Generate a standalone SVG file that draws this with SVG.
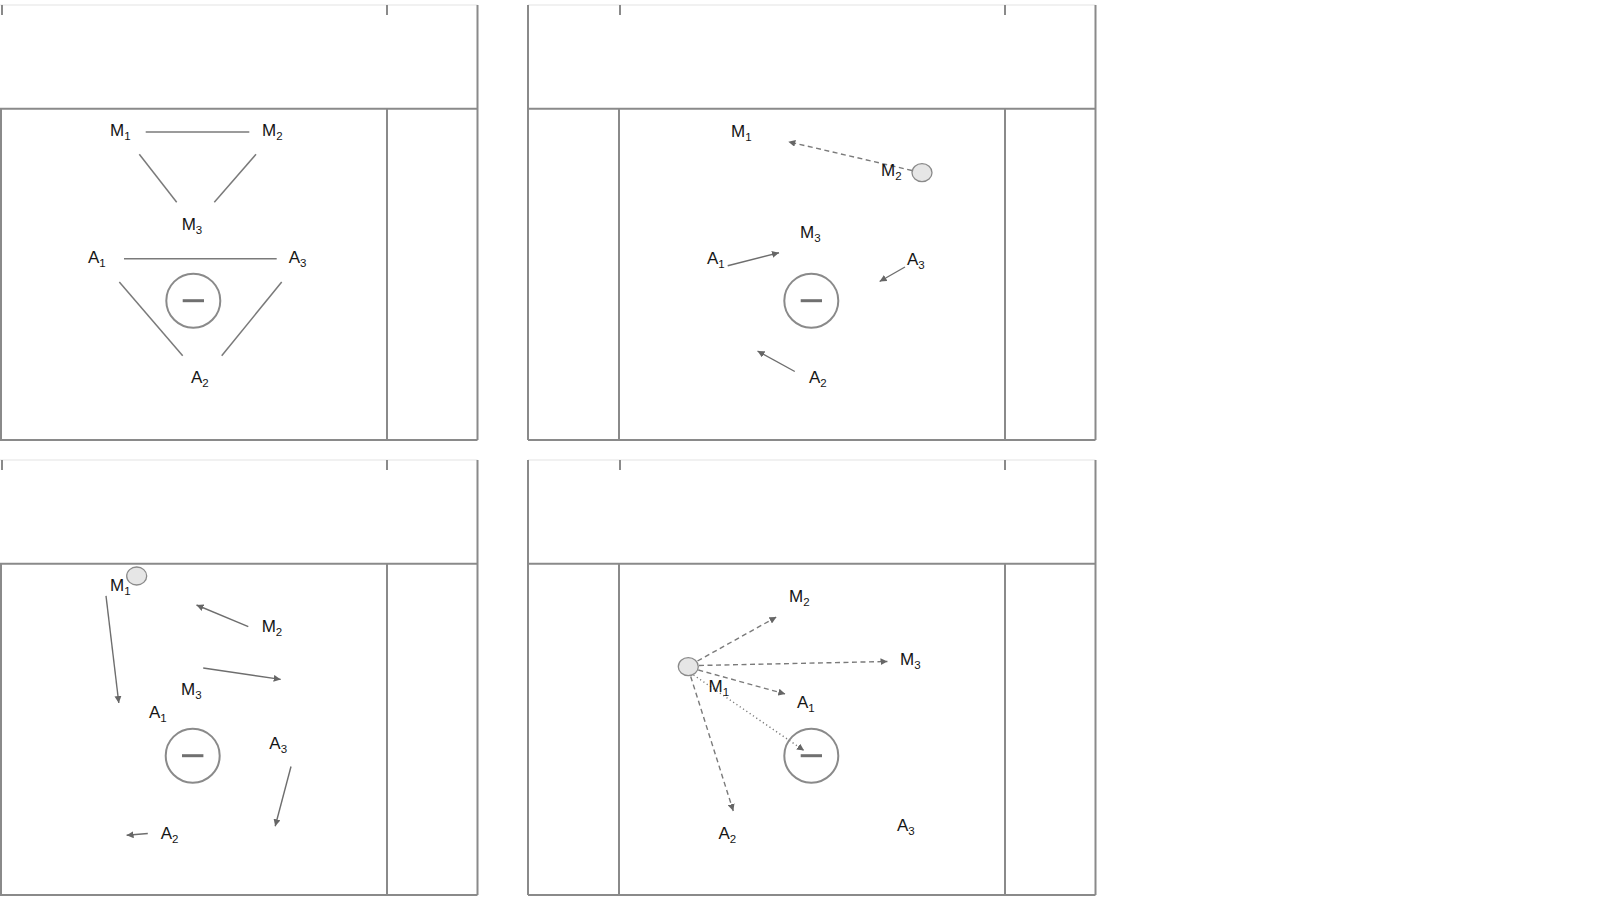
<svg xmlns="http://www.w3.org/2000/svg" width="1600" height="900" viewBox="0 0 1600 900">
<defs>
<style>
.faint{stroke:#ececec;stroke-width:1.5;fill:none}
.box{stroke:#8a8a8a;stroke-width:2;fill:none}
.tick{stroke:#8a8a8a;stroke-width:2}
.ln{stroke:#7a7a7a;stroke-width:1.5;fill:none}
.ar{stroke:#6e6e6e;stroke-width:1.4;fill:none;marker-end:url(#ah)}
.da{stroke:#7a7a7a;stroke-width:1.4;fill:none;stroke-dasharray:5 3.5;marker-end:url(#ah)}
.do{stroke:#7a7a7a;stroke-width:1.4;fill:none;stroke-dasharray:1.2 2.8;marker-end:url(#ah)}
.ion{stroke:#8a8a8a;stroke-width:2;fill:none}
.minus{stroke:#707070;stroke-width:3}
.dot{stroke:#8a8a8a;stroke-width:1.3;fill:#e6e6e6}
text{font-family:"Liberation Sans",Arial,Helvetica,sans-serif;font-size:17px;fill:#151515}
.sub{font-size:11.5px}
</style>
<marker id="ah" viewBox="0 0 7 7" refX="7" refY="3.5" markerWidth="7" markerHeight="7" markerUnits="userSpaceOnUse" orient="auto">
<path d="M0,0 L7,3.5 L0,7 z" fill="#666"/>
</marker>
</defs>

<g id="frames">
<g id="frame1">
<line class="faint" x1="0" y1="5" x2="477.5" y2="5"/>
<line class="tick" x1="2" y1="5" x2="2" y2="15"/>
<line class="tick" x1="387" y1="5" x2="387" y2="15"/>
<line class="box" x1="477.5" y1="5" x2="477.5" y2="440"/>
<line class="box" x1="0" y1="108.7" x2="477.5" y2="108.7"/>
<line class="box" x1="1" y1="108.7" x2="1" y2="440"/>
<line class="box" x1="387" y1="108.7" x2="387" y2="440"/>
<line class="box" x1="0" y1="440" x2="477.5" y2="440"/>
</g>
<g id="frame2">
<line class="faint" x1="528" y1="5" x2="1095.5" y2="5"/>
<line class="tick" x1="620" y1="5" x2="620" y2="15"/>
<line class="tick" x1="1005" y1="5" x2="1005" y2="15"/>
<line class="box" x1="528" y1="5" x2="528" y2="440"/>
<line class="box" x1="1095.5" y1="5" x2="1095.5" y2="440"/>
<line class="box" x1="528" y1="108.7" x2="1095.5" y2="108.7"/>
<line class="box" x1="619" y1="108.7" x2="619" y2="440"/>
<line class="box" x1="1005" y1="108.7" x2="1005" y2="440"/>
<line class="box" x1="528" y1="440" x2="1095.5" y2="440"/>
</g>
<g id="frame3">
<line class="faint" x1="0" y1="460" x2="477.5" y2="460"/>
<line class="tick" x1="2" y1="460" x2="2" y2="470"/>
<line class="tick" x1="387" y1="460" x2="387" y2="470"/>
<line class="box" x1="477.5" y1="460" x2="477.5" y2="895"/>
<line class="box" x1="0" y1="563.7" x2="477.5" y2="563.7"/>
<line class="box" x1="1" y1="563.7" x2="1" y2="895"/>
<line class="box" x1="387" y1="563.7" x2="387" y2="895"/>
<line class="box" x1="0" y1="895" x2="477.5" y2="895"/>
</g>
<g id="frame4">
<line class="faint" x1="528" y1="460" x2="1095.5" y2="460"/>
<line class="tick" x1="620" y1="460" x2="620" y2="470"/>
<line class="tick" x1="1005" y1="460" x2="1005" y2="470"/>
<line class="box" x1="528" y1="460" x2="528" y2="895"/>
<line class="box" x1="1095.5" y1="460" x2="1095.5" y2="895"/>
<line class="box" x1="528" y1="563.7" x2="1095.5" y2="563.7"/>
<line class="box" x1="619" y1="563.7" x2="619" y2="895"/>
<line class="box" x1="1005" y1="563.7" x2="1005" y2="895"/>
<line class="box" x1="528" y1="895" x2="1095.5" y2="895"/>
</g>
</g>

<g id="connectors">
<line class="ln" x1="145.7" y1="132" x2="249.3" y2="132"/>
<line class="ln" x1="139.3" y1="154.3" x2="176.7" y2="202.3"/>
<line class="ln" x1="256" y1="154.3" x2="214.3" y2="202.3"/>
<line class="ln" x1="124" y1="258.7" x2="276.7" y2="258.7"/>
<line class="ln" x1="119.3" y1="282" x2="182.7" y2="355.7"/>
<line class="ln" x1="281.7" y1="282" x2="221.7" y2="355.7"/>

<line class="da" x1="912" y1="170.5" x2="788.3" y2="141.7"/>
<line class="ar" x1="727.7" y1="265.7" x2="779" y2="252.7"/>
<line class="ar" x1="905" y1="267" x2="879.6" y2="281.5"/>
<line class="ar" x1="794.8" y1="371.5" x2="757.5" y2="351"/>

<line class="ar" x1="106" y1="595.8" x2="118.8" y2="703"/>
<line class="ar" x1="248.3" y1="626.6" x2="196.5" y2="605"/>
<line class="ar" x1="203.2" y1="668" x2="280.7" y2="679.4"/>
<line class="ar" x1="291" y1="766.5" x2="275.2" y2="826.3"/>
<line class="ar" x1="147.8" y1="833.5" x2="126.6" y2="835.3"/>

<line class="da" x1="697.5" y1="661" x2="776.4" y2="617"/>
<line class="da" x1="699" y1="665.5" x2="887.5" y2="661.5"/>
<line class="da" x1="698.3" y1="670" x2="785.3" y2="694"/>
<line class="do" x1="693.5" y1="675" x2="804" y2="750.5"/>
<line class="da" x1="690.7" y1="676.5" x2="733.3" y2="811"/>
</g>

<g id="panel1">
<g id="p1-ion"><circle class="ion" cx="193.3" cy="300.7" r="27"/><line class="minus" x1="182.7" y1="300.7" x2="204" y2="300.7"/></g>
<g id="p1-M1"><text x="110" y="136">M<tspan class="sub" dy="4">1</tspan></text></g>
<g id="p1-M2"><text x="262" y="136">M<tspan class="sub" dy="4">2</tspan></text></g>
<g id="p1-M3"><text x="181.7" y="230">M<tspan class="sub" dy="4">3</tspan></text></g>
<g id="p1-A1"><text x="88" y="263.3">A<tspan class="sub" dy="4">1</tspan></text></g>
<g id="p1-A3"><text x="288.7" y="263">A<tspan class="sub" dy="4">3</tspan></text></g>
<g id="p1-A2"><text x="191" y="382.7">A<tspan class="sub" dy="4">2</tspan></text></g>
</g>

<g id="panel2">
<g id="p2-ion"><circle class="ion" cx="811.3" cy="300.7" r="27"/><line class="minus" x1="800.7" y1="300.7" x2="822" y2="300.7"/></g>
<g id="p2-dot"><ellipse class="dot" cx="922" cy="172.7" rx="10" ry="9"/></g>
<g id="p2-M1"><text x="731" y="137">M<tspan class="sub" dy="4">1</tspan></text></g>
<g id="p2-M2"><text x="881" y="176">M<tspan class="sub" dy="4">2</tspan></text></g>
<g id="p2-M3"><text x="800" y="238">M<tspan class="sub" dy="4">3</tspan></text></g>
<g id="p2-A1"><text x="707" y="264">A<tspan class="sub" dy="4">1</tspan></text></g>
<g id="p2-A3"><text x="907" y="265">A<tspan class="sub" dy="4">3</tspan></text></g>
<g id="p2-A2"><text x="809" y="383">A<tspan class="sub" dy="4">2</tspan></text></g>
</g>

<g id="panel3">
<g id="p3-ion"><circle class="ion" cx="192.7" cy="755.7" r="27"/><line class="minus" x1="182" y1="755.7" x2="203.4" y2="755.7"/></g>
<g id="p3-dot"><ellipse class="dot" cx="136.7" cy="576" rx="10" ry="9"/></g>
<g id="p3-M1"><text x="110" y="590.7">M<tspan class="sub" dy="4">1</tspan></text></g>
<g id="p3-M2"><text x="261.7" y="631.7">M<tspan class="sub" dy="4">2</tspan></text></g>
<g id="p3-M3"><text x="181" y="694.5">M<tspan class="sub" dy="4">3</tspan></text></g>
<g id="p3-A1"><text x="149" y="718">A<tspan class="sub" dy="4">1</tspan></text></g>
<g id="p3-A3"><text x="269.3" y="748.5">A<tspan class="sub" dy="4">3</tspan></text></g>
<g id="p3-A2"><text x="160.7" y="838.5">A<tspan class="sub" dy="4">2</tspan></text></g>
</g>

<g id="panel4">
<g id="p4-ion"><circle class="ion" cx="811.3" cy="755.7" r="27"/><line class="minus" x1="800.7" y1="755.7" x2="822" y2="755.7"/></g>
<g id="p4-dot"><ellipse class="dot" cx="688.3" cy="666.7" rx="10" ry="9"/></g>
<g id="p4-M2"><text x="789" y="602">M<tspan class="sub" dy="4">2</tspan></text></g>
<g id="p4-M3"><text x="900" y="665">M<tspan class="sub" dy="4">3</tspan></text></g>
<g id="p4-M1"><text x="708.5" y="692">M<tspan class="sub" dy="4">1</tspan></text></g>
<g id="p4-A1"><text x="797" y="708">A<tspan class="sub" dy="4">1</tspan></text></g>
<g id="p4-A2"><text x="718.5" y="839">A<tspan class="sub" dy="4">2</tspan></text></g>
<g id="p4-A3"><text x="897" y="831">A<tspan class="sub" dy="4">3</tspan></text></g>
</g>
</svg>
